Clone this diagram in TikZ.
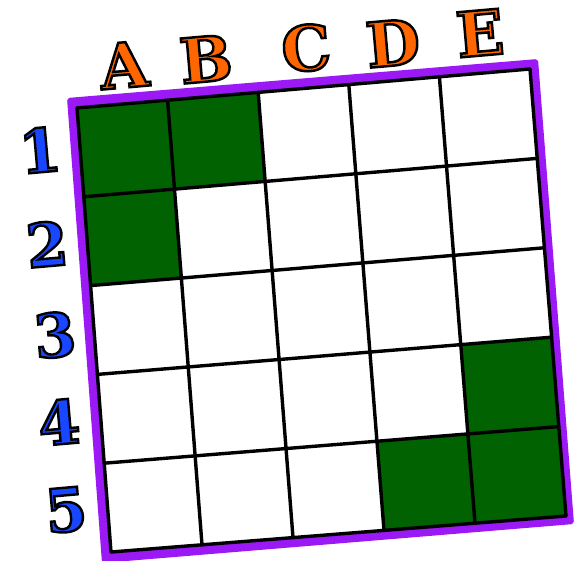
\documentclass[tikz,border=0pt]{standalone}
\usepackage{fontspec}
\setmainfont{DejaVu Serif}
\newfontfamily\headfont[FakeBold=4]{DejaVu Serif Bold}
\usetikzlibrary{calc}
\definecolor{cellgreen}{RGB}{0,98,0}
\definecolor{frameviolet}{RGB}{155,25,245}
\definecolor{labelorange}{RGB}{255,102,0}
\definecolor{labelblue}{RGB}{25,70,255}
\newcommand{\outlined}[1]{\special{pdf:literal direct 0 0 0 RG}#1}
\tikzset{
  colhead/.style={text=labelorange, font=\headfont\fontsize{62}{62}\selectfont, inner sep=0pt, rotate=5},
  rowhead/.style={text=labelblue, font=\headfont\fontsize{60}{60}\selectfont, inner sep=0pt, rotate=5},
  gridline/.style={line width=3.4pt, black, line cap=round},
  cellfill/.style={fill=cellgreen}
}
\begin{document}
\begin{tikzpicture}[x=1pt,y=-1pt]
\useasboundingbox (0,0) rectangle (578,561);
\fill[white] (0,0) rectangle (578,561);
% frame
\fill[frameviolet, rounded corners=3pt] (67,98) -- (538,59) -- (574,524) -- (102,563) -- cycle;
\coordinate (TL) at (77,108);
\coordinate (TR) at (530,69);
\coordinate (BL) at (111,552);
\coordinate (BR) at (566,516);
\fill[white] (TL) -- (TR) -- (BR) -- (BL) -- cycle;
\foreach \i in {0,...,5}{
  \coordinate (t\i) at ($(TL)!\i/5!(TR)$);
  \coordinate (b\i) at ($(BL)!\i/5!(BR)$);
  \coordinate (l\i) at ($(TL)!\i/5!(BL)$);
  \coordinate (r\i) at ($(TR)!\i/5!(BR)$);
}
\foreach \i in {0,...,5}{
  \foreach \j in {0,...,5}{
    \coordinate (p\i\j) at ($(t\i)!\j/5!(b\i)$);
  }
}
% green cells: (column,row)
\foreach \c/\r in {0/0,1/0,0/1,4/3,3/4,4/4}{
  \pgfmathtruncatemacro{\cc}{\c+1}
  \pgfmathtruncatemacro{\rr}{\r+1}
  \fill[cellfill] (p\c\r) -- (p\cc\r) -- (p\cc\rr) -- (p\c\rr) -- cycle;
}
% grid lines
\foreach \i in {0,...,5}{
  \draw[gridline] (t\i) -- (b\i);
  \draw[gridline] (l\i) -- (r\i);
}
% column labels
\node[colhead] (colA) at (124,65) {\outlined{A}};
\node[colhead] (colB) at (206,59) {\outlined{B}};
\node[colhead] (colC) at (306,48) {\outlined{C}};
\node[colhead] (colD) at (393,43) {\outlined{D}};
\node[colhead] (colE) at (480,33) {\outlined{E}};
% row labels
\node[rowhead] (row1) at (40,150) {\outlined{1}};
\node[rowhead] (row2) at (47,244) {\outlined{2}};
\node[rowhead] (row3) at (55,335) {\outlined{3}};
\node[rowhead] (row4) at (59,422) {\outlined{4}};
\node[rowhead] (row5) at (66,510) {\outlined{5}};
\end{tikzpicture}
\end{document}
